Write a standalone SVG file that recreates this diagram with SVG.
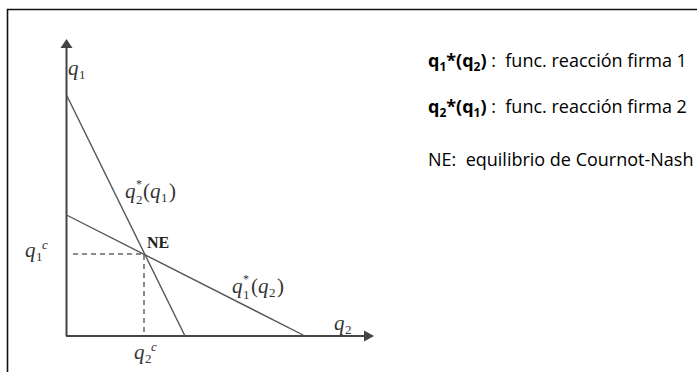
<svg xmlns="http://www.w3.org/2000/svg" width="697" height="372" viewBox="0 0 697 372">
<defs>
<style>
.m{font-family:"Liberation Serif","Times New Roman",serif;font-style:italic;font-size:21px;fill:#333}
.s{font-family:"Liberation Serif","Times New Roman",serif;font-style:italic;font-size:13px;fill:#333}
.n{font-family:"Liberation Serif","Times New Roman",serif;font-style:normal;font-size:13px;fill:#333}
.st{font-family:"Liberation Serif","Times New Roman",serif;font-style:normal;font-size:12px;fill:#333}
.p{font-family:"Liberation Serif","Times New Roman",serif;font-style:normal;font-size:21px;fill:#333}
.ne{font-family:"Liberation Serif","Times New Roman",serif;font-weight:bold;font-size:16px;fill:#222}
.lg{font-family:"Open Sans","Liberation Sans",sans-serif;font-size:18px;fill:#000;white-space:pre}
.b{font-weight:bold}
.axis{stroke:#444;stroke-width:2;fill:none}
.curve{stroke:#555;stroke-width:1.4;fill:none}
.dash{stroke:#666;stroke-width:1.5;stroke-dasharray:5 4;fill:none}
</style>
</defs>
<rect x="0" y="0" width="697" height="372" fill="#fff"/>
<path d="M7.5,372 V9.5 H697" stroke="#111" stroke-width="1.6" fill="none"/>
<g id="connectors">
<path class="axis" d="M66.5,336 V46"/>
<path class="axis" d="M66,336 H366"/>
<polygon points="66.5,39 60.5,48 72.5,48" fill="#444"/>
<polygon points="374,336 364,330.5 364,341.5" fill="#444"/>
<path class="curve" d="M66.5,95 L185,336"/>
<path class="curve" d="M66.5,215 L305,336"/>
<path class="dash" d="M73,254 H144 V336"/>
</g>
<g id="axis-q1"><text class="m" x="68" y="75">q<tspan class="n" x="79" y="79">1</tspan></text></g>
<g id="axis-q2"><text class="m" x="334" y="330">q<tspan class="n" x="345" y="334">2</tspan></text></g>
<g id="q1c"><text class="m" x="25" y="257">q<tspan class="n" x="36" y="261">1</tspan><tspan class="s" x="42" y="249">c</tspan></text></g>
<g id="q2c"><text class="m" x="134" y="359">q<tspan class="n" x="145" y="363">2</tspan><tspan class="s" x="151" y="351">c</tspan></text></g>
<g id="NE"><text class="ne" x="147" y="248">NE</text></g>
<g id="label-q2-star"><text class="st" x="136" y="188">*</text><text class="m" x="125" y="198">q<tspan class="n" x="136" y="204">2</tspan><tspan class="p" x="143" y="198">(</tspan><tspan x="150" y="198">q</tspan><tspan class="n" x="161" y="202">1</tspan><tspan class="p" x="169" y="198">)</tspan></text></g>
<g id="label-q1-star"><text class="st" x="243" y="283">*</text><text class="m" x="232" y="293">q<tspan class="n" x="243" y="299">1</tspan><tspan class="p" x="251" y="293">(</tspan><tspan x="258" y="293">q</tspan><tspan class="n" x="269" y="297">2</tspan><tspan class="p" x="277" y="293">)</tspan></text></g>
<g id="legend">
<text class="lg" x="428" y="67" xml:space="preserve"><tspan class="b">q</tspan><tspan class="b" font-size="12" dy="4">1</tspan><tspan class="b" dy="-4">*(q</tspan><tspan class="b" font-size="12" dy="4">2</tspan><tspan class="b" dy="-4">)</tspan> :  func. reacción firma 1</text>
<text class="lg" x="428" y="113" xml:space="preserve"><tspan class="b">q</tspan><tspan class="b" font-size="12" dy="4">2</tspan><tspan class="b" dy="-4">*(q</tspan><tspan class="b" font-size="12" dy="4">1</tspan><tspan class="b" dy="-4">)</tspan> :  func. reacción firma 2</text>
<text class="lg" x="428" y="166" xml:space="preserve">NE:  equilibrio de Cournot-Nash</text>
</g>
</svg>
